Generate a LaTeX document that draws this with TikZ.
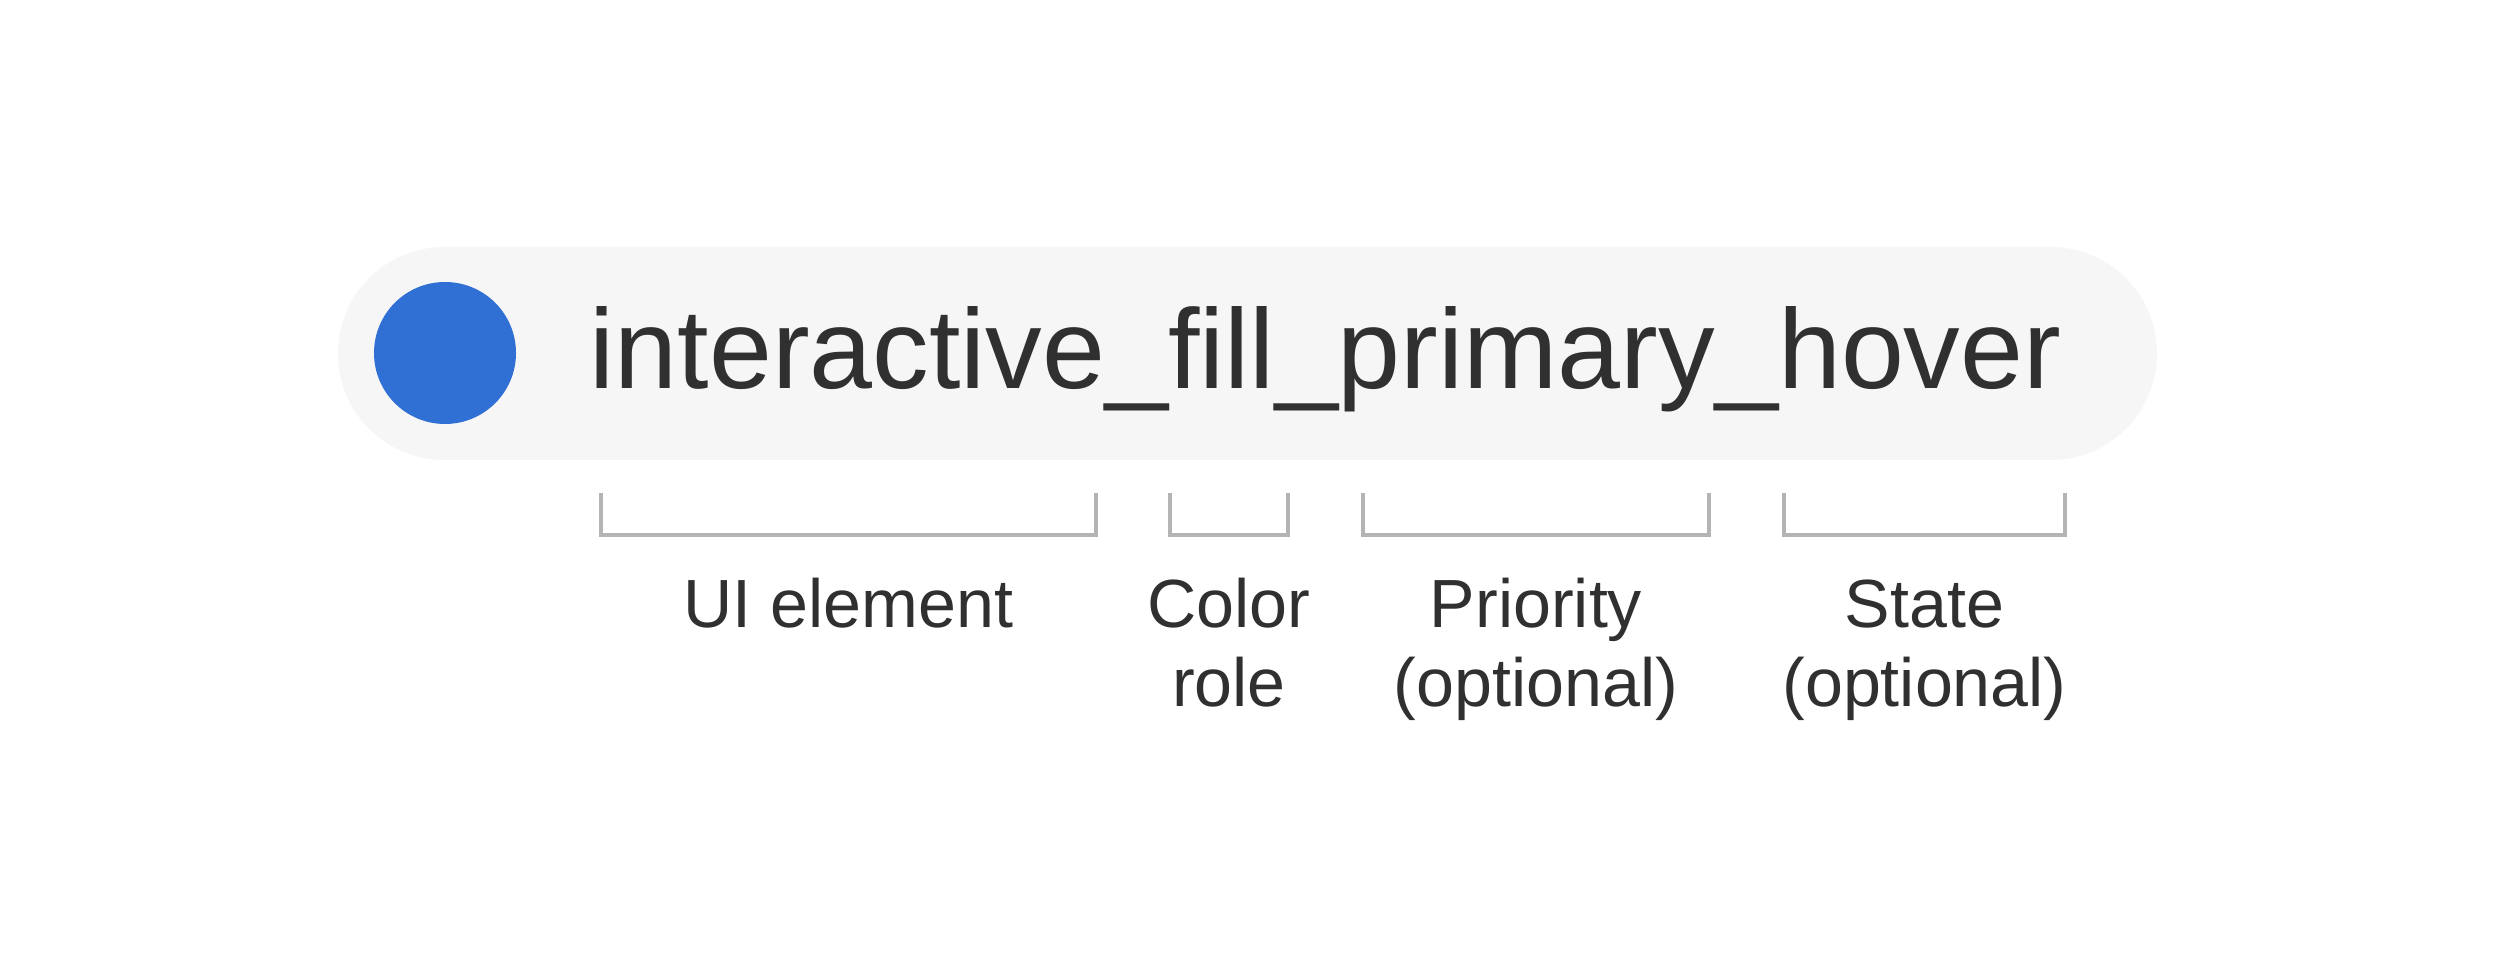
\documentclass[tikz,border=0pt]{standalone}
\usepackage{fontspec}
\setmainfont{Liberation Sans}
\definecolor{pillbg}{HTML}{F6F6F6}
\definecolor{dotblue}{HTML}{306FD3}
\definecolor{ink}{HTML}{303030}
\definecolor{brk}{HTML}{B4B4B4}
\begin{document}
\begin{tikzpicture}[
  lbl/.style={anchor=base, inner sep=0pt, text=ink, font=\fontsize{19.4pt}{23pt}\selectfont},
  brace/.style={draw=brk, line width=1pt}
]
\useasboundingbox[fill=white] (0,0) rectangle (25,-9.74);
\fill[pillbg, rounded corners=1.065cm] (3.38,-2.47) rectangle (21.57,-4.60);
\fill[dotblue] (4.45,-3.53) circle (0.71);
\node[anchor=base, inner sep=0pt, text=ink, font=\fontsize{32.2pt}{36pt}\selectfont] (name) at (13.255,-3.89) {interactive\_fill\_primary\_hover};
% brackets
\draw[brace] (6.01,-4.93) -- (6.01,-5.35) -- (10.96,-5.35) -- (10.96,-4.93);
\draw[brace] (11.70,-4.93) -- (11.70,-5.35) -- (12.88,-5.35) -- (12.88,-4.93);
\draw[brace] (13.63,-4.93) -- (13.63,-5.35) -- (17.09,-5.35) -- (17.09,-4.93);
\draw[brace] (17.84,-4.93) -- (17.84,-5.35) -- (20.65,-5.35) -- (20.65,-4.93);
% labels
\node[lbl] (ui) at (8.485,-6.28) {UI element};
\node[lbl] (color) at (12.29,-6.28) {Color};
\node[lbl] (role) at (12.29,-7.07) {role};
\node[lbl] (prio) at (15.36,-6.28) {Priority};
\node[lbl] (prioopt) at (15.36,-7.07) {(optional)};
\node[lbl] (state) at (19.245,-6.28) {State};
\node[lbl] (stateopt) at (19.245,-7.07) {(optional)};
\end{tikzpicture}
\end{document}
